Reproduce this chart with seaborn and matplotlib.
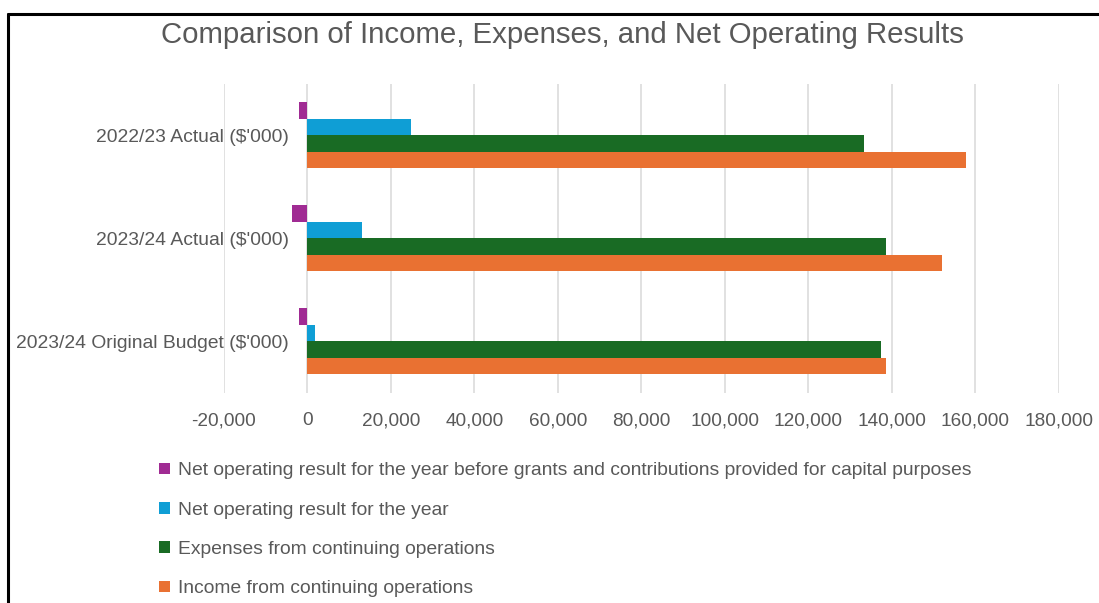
import matplotlib
matplotlib.use("Agg")
import matplotlib.pyplot as plt
import seaborn as sns
import pandas as pd
from matplotlib.ticker import FuncFormatter

# Reporting periods (y-axis categories)
periods = [
    "2022/23 Actual ($'000)",
    "2023/24 Actual ($'000)",
    "2023/24 Original Budget ($'000)",
]

# Series names
series = [
    "Net operating result for the year before grants and contributions provided for capital purposes",
    "Net operating result for the year",
    "Expenses from continuing operations",
    "Income from continuing operations",
]

# Values per series, in period order ($'000)
net_before_capital = [-2000, -3700, -2000]
net_result = [24700, 13100, 1800]
expenses = [133400, 138600, 137300]
income = [157800, 151900, 138600]

colors = ["#A02B93", "#0F9ED5", "#196B24", "#E97132"]
x_ticks = [-20000, 0, 20000, 40000, 60000, 80000, 100000, 120000, 140000, 160000, 180000]

rows = []
for name, vals in zip(series, [net_before_capital, net_result, expenses, income]):
    for p, v in zip(periods, vals):
        rows.append({"Period": p, "Series": name, "Value": v})
df = pd.DataFrame(rows)

sns.set_theme(style="white")
plt.rcParams["font.family"] = ["Liberation Sans", "DejaVu Sans"]

fig = plt.figure(figsize=(10.99, 6.03), dpi=100)
ax = fig.add_axes([0.2038, 0.3483, 0.7598, 0.5130])

sns.barplot(
    data=df, y="Period", x="Value", hue="Series",
    order=periods, hue_order=series, palette=colors,
    orient="h", width=0.64, gap=0, ax=ax, errorbar=None,
    edgecolor="none", saturation=1,
)

ax.set_xlim(-20000, 180000)
ax.set_xticks(x_ticks)
ax.xaxis.set_major_formatter(FuncFormatter(lambda v, _: f"{int(v):,}"))
ax.grid(axis="x", color="#d9d9d9", linewidth=1.1)
ax.set_axisbelow(True)
# Category labels sit beside the zero line
ax.spines["left"].set_position(("data", 0))
for s in ax.spines.values():
    s.set_visible(False)
ax.set_xlabel("")
ax.set_ylabel("")
ax.tick_params(axis="x", length=0, pad=14, labelsize=13.7, labelcolor="#595959")
ax.tick_params(axis="y", length=0, pad=13.5, labelsize=13.9, labelcolor="#595959")

sns.move_legend(
    ax, loc="upper left", bbox_to_anchor=(0.129, 0.262),
    bbox_transform=fig.transFigure, frameon=False, title=None,
    handlelength=0.55, handleheight=0.55, handletextpad=0.45,
    labelspacing=1.16,
    prop={"size": 13.85},
)
for t in ax.get_legend().get_texts():
    t.set_color("#595959")

fig.text(0.512, 0.942, "Comparison of Income, Expenses, and Net Operating Results",
         ha="center", va="center", fontsize=21.2, color="#595959")

# Chart frame
fig.add_artist(plt.Line2D([0.0075, 0.0075], [0.0, 0.977], transform=fig.transFigure,
                          color="black", linewidth=2.2))
fig.add_artist(plt.Line2D([0.0075, 1.0], [0.977, 0.977], transform=fig.transFigure,
                          color="black", linewidth=2.2))

fig.savefig("out.png", dpi=100)
